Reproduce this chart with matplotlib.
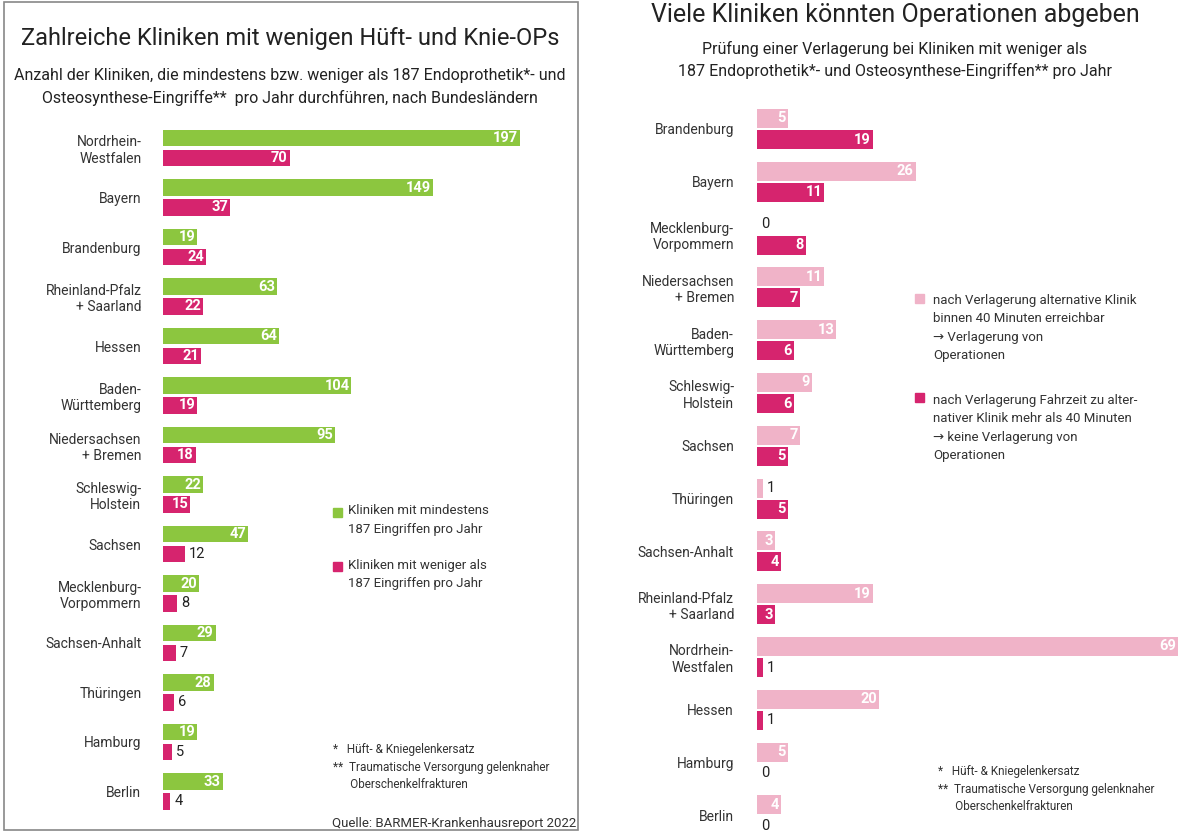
import matplotlib
matplotlib.use("Agg")
import matplotlib.pyplot as plt
from matplotlib.patches import Rectangle

plt.rcParams['font.family'] = ['Roboto', 'DejaVu Sans']

left_states = ["Nordrhein-\nWestfalen", "Bayern", "Brandenburg", "Rheinland-Pfalz\n+ Saarland", "Hessen",
               "Baden-\nWürttemberg", "Niedersachsen\n+ Bremen", "Schleswig-\nHolstein", "Sachsen",
               "Mecklenburg-\nVorpommern", "Sachsen-Anhalt", "Thüringen", "Hamburg", "Berlin"]
left_min = [197, 149, 19, 63, 64, 104, 95, 22, 47, 20, 29, 28, 19, 33]
left_less = [70, 37, 24, 22, 21, 19, 18, 15, 12, 8, 7, 6, 5, 4]

right_states = ["Brandenburg", "Bayern", "Mecklenburg-\nVorpommern", "Niedersachsen\n+ Bremen", "Baden-\nWürttemberg",
                "Schleswig-\nHolstein", "Sachsen", "Thüringen", "Sachsen-Anhalt", "Rheinland-Pfalz\n+ Saarland",
                "Nordrhein-\nWestfalen", "Hessen", "Hamburg", "Berlin"]
right_alt = [5, 26, 0, 11, 13, 9, 7, 1, 3, 19, 69, 20, 5, 4]
right_far = [19, 11, 8, 7, 6, 6, 5, 5, 4, 3, 1, 1, 0, 0]

GREEN = "#8cc63f"
RED = "#d6246e"
PINK = "#f0b3c8"
W, H = 1200, 832
fig = plt.figure(figsize=(12, 8.32), dpi=100)

def ax_px(x0, y0, x1, y1):
    return fig.add_axes([x0 / W, 1 - y1 / H, (x1 - x0) / W, (y1 - y0) / H])

def barlabels(ax, bars, vals, pxper, thresh):
    for b, v in zip(bars, vals):
        y = b.get_y() + b.get_height() / 2
        if v * pxper >= thresh:
            ax.text(v - 2 / pxper, y, str(v), ha='right', va='center', color='white', fontsize=10.5, fontweight='bold')
        else:
            ax.text(v + 4 / pxper, y, str(v), ha='left', va='center', color='#222', fontsize=10.5)

fig.patches.append(Rectangle((4 / W, 1 - 830 / H), 574 / W, 828 / H, transform=fig.transFigure,
                             fill=False, ec='#888', lw=1.2))

# left chart
y_top, y_bot = 120, 820
sp = 49.5; c0 = 148
ax = ax_px(163, y_top, 563, y_bot)
pxper = 357 / 197
ax.set_xlim(0, 400 / pxper)
ax.set_ylim((y_bot - c0) / sp, -(c0 - y_top) / sp)
ys = list(range(len(left_states)))
b1 = ax.barh([y - 0.2 for y in ys], left_min, height=0.33, color=GREEN)
b2 = ax.barh([y + 0.2 for y in ys], left_less, height=0.33, color=RED)
barlabels(ax, b1, left_min, pxper, 25)
barlabels(ax, b2, left_less, pxper, 25)
ax.set_yticks(ys)
ax.set_yticklabels(left_states, fontsize=10, color='#333')
ax.tick_params(left=False, bottom=False, labelbottom=False, pad=12)
for s in ax.spines.values():
    s.set_visible(False)

fig.text(290 / W, 1 - 38 / H, "Zahlreiche Kliniken mit wenigen Hüft- und Knie-OPs", ha='center', va='center', fontsize=17, color='#222')
fig.text(290 / W, 1 - 87 / H, "Anzahl der Kliniken, die mindestens bzw. weniger als 187 Endoprothetik*- und\nOsteosynthese-Eingriffe**  pro Jahr durchführen, nach Bundesländern",
         ha='center', va='center', fontsize=11.5, color='#222', linespacing=1.5)
fig.patches.append(Rectangle((333 / W, 1 - 517 / H), 9 / W, 9 / H, transform=fig.transFigure, color=GREEN))
fig.text(348 / W, 1 - 520 / H, "Kliniken mit mindestens\n187 Eingriffen pro Jahr", va='center', fontsize=9.5, color='#333', linespacing=1.5)
fig.patches.append(Rectangle((333 / W, 1 - 571 / H), 9 / W, 9 / H, transform=fig.transFigure, color=RED))
fig.text(348 / W, 1 - 574 / H, "Kliniken mit weniger als\n187 Eingriffen pro Jahr", va='center', fontsize=9.5, color='#333', linespacing=1.5)
fig.text(333 / W, 1 - 767 / H, "*   Hüft- & Kniegelenkersatz\n**  Traumatische Versorgung gelenknaher\n      Oberschenkelfrakturen",
         va='center', fontsize=8.5, color='#333', linespacing=1.5)
fig.text(576 / W, 1 - 824 / H, "Quelle: BARMER-Krankenhausreport 2022", ha='right', va='center', fontsize=9.5, color='#333')

# right chart
y_top2, y_bot2 = 100, 832
sp2 = 52.8; c02 = 129
ax2 = ax_px(757, y_top2, 1180, y_bot2)
pxper2 = 421 / 69
ax2.set_xlim(0, 423 / pxper2)
ax2.set_ylim((y_bot2 - c02) / sp2, -(c02 - y_top2) / sp2)
ys2 = list(range(len(right_states)))
r1 = ax2.barh([y - 0.2 for y in ys2], right_alt, height=0.36, color=PINK)
r2 = ax2.barh([y + 0.2 for y in ys2], right_far, height=0.36, color=RED)
barlabels(ax2, r1, right_alt, pxper2, 18)
barlabels(ax2, r2, right_far, pxper2, 18)
ax2.set_yticks(ys2)
ax2.set_yticklabels(right_states, fontsize=10, color='#333')
ax2.tick_params(left=False, bottom=False, labelbottom=False, pad=13)
for s in ax2.spines.values():
    s.set_visible(False)

fig.text(895 / W, 1 - 15 / H, "Viele Kliniken könnten Operationen abgeben", ha='center', va='center', fontsize=18, color='#222')
fig.text(895 / W, 1 - 60 / H, "Prüfung einer Verlagerung bei Kliniken mit weniger als\n187 Endoprothetik*- und Osteosynthese-Eingriffen** pro Jahr",
         ha='center', va='center', fontsize=11.5, color='#222', linespacing=1.5)
fig.patches.append(Rectangle((915 / W, 1 - 303 / H), 9 / W, 9 / H, transform=fig.transFigure, color=PINK))
fig.text(933 / W, 1 - 328 / H, "nach Verlagerung alternative Klinik\nbinnen 40 Minuten erreichbar\n→ Verlagerung von\nOperationen",
         va='center', fontsize=9.5, color='#333', linespacing=1.55)
fig.patches.append(Rectangle((915 / W, 1 - 402 / H), 9 / W, 9 / H, transform=fig.transFigure, color=RED))
fig.text(933 / W, 1 - 428 / H, "nach Verlagerung Fahrzeit zu alter-\nnativer Klinik mehr als 40 Minuten\n→ keine Verlagerung von\nOperationen",
         va='center', fontsize=9.5, color='#333', linespacing=1.55)
fig.text(938 / W, 1 - 789 / H, "*   Hüft- & Kniegelenkersatz\n**  Traumatische Versorgung gelenknaher\n      Oberschenkelfrakturen",
         va='center', fontsize=8.5, color='#333', linespacing=1.5)

fig.savefig("out.png", dpi=100, facecolor='white')
